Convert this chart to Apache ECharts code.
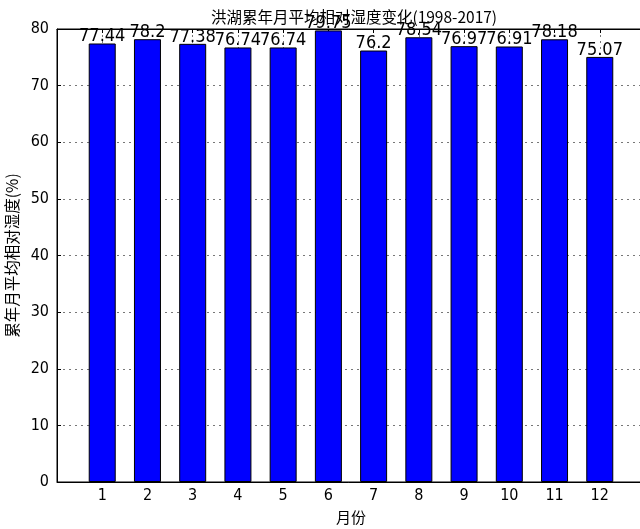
<!DOCTYPE html>
<html>
<head>
<meta charset="utf-8">
<script src="https://cdn.jsdelivr.net/npm/echarts@6/dist/echarts.min.js"></script>
<style>html,body{margin:0;padding:0;background:#fff}#c{width:640px;height:529px}</style>
</head>
<body>
<div id="c"></div>
<script>
const months = [1,2,3,4,5,6,7,8,9,10,11,12];
const humidity = [77.44,78.2,77.38,76.74,76.74,79.75,76.2,78.54,76.97,76.91,78.18,75.07];
const yTicks = [0,10,20,30,40,50,60,70,80];
const titleText = '洪湖累年月平均相对湿度变化(1998-2017)';
const xName = '月份';
const yName = '累年月平均相对湿度(%)';

const chart = echarts.init(document.getElementById('c'), null, {renderer:'canvas'});
const numFont = '"DejaVu Sans Condensed", "DejaVu Sans"';
const cjkFont = '"Noto Sans CJK SC"';
const grid = {left:57, right:-5, top:29, bottom:47, show:true, borderColor:'#000', borderWidth:1,
  backgroundColor:'transparent', outerBoundsMode:'none', containLabel:false};
chart.setOption({
  animation:false,
  title:{text:titleText, left:349, top:4, textAlign:'center',
    textStyle:{fontFamily:cjkFont, fontSize:15.5, fontWeight:'normal', color:'#000'}},
  grid:grid,
  xAxis:[{
    type:'value', min:0, max:13, interval:1, position:'bottom',
    name:xName, nameLocation:'middle', nameGap:28,
    nameTextStyle:{fontFamily:cjkFont, fontSize:15, color:'#000'},
    axisLine:{show:true, lineStyle:{color:'#000', width:1}},
    axisTick:{show:true, inside:true, length:4, lineStyle:{color:'#000'}},
    axisLabel:{fontFamily:numFont, fontSize:16, color:'#000', margin:6,
      formatter:function(v){return (v>=1&&v<=12)?months[v-1]:'';}},
    splitLine:{show:true, lineStyle:{color:'#777', type:[2,4], width:1}}
  },{
    type:'value', min:0, max:13, interval:1, position:'top',
    axisLine:{show:true, lineStyle:{color:'#000'}},
    axisTick:{show:true, inside:true, length:4, lineStyle:{color:'#000'}},
    axisLabel:{show:false}, splitLine:{show:false}
  }],
  yAxis:{
    type:'value', min:0, max:80, interval:10,
    name:yName, nameLocation:'middle', nameGap:32,
    nameTextStyle:{fontFamily:cjkFont, fontSize:15.5, color:'#000'},
    axisLine:{show:true, lineStyle:{color:'#000', width:1}},
    axisTick:{show:true, inside:true, length:4, lineStyle:{color:'#000'}},
    axisLabel:{fontFamily:numFont, fontSize:16, color:'#000', margin:8,
      formatter:function(v){return yTicks.indexOf(v)>=0?String(v):'';}},
    splitLine:{show:true, lineStyle:{color:'#777', type:[2,4], width:1}}
  },
  series:[{
    type:'bar', xAxisIndex:0,
    data: months.map((m,i)=>[m, humidity[i]]),
    barWidth:27,
    itemStyle:{color:'#0000ff', borderColor:'#000', borderWidth:1},
    label:{show:true, position:'top', distance:-2, fontFamily:numFont, fontSize:18, color:'#000',
      formatter:function(p){return String(p.value[1]);}}
  }]
});
</script>
</body>
</html>
